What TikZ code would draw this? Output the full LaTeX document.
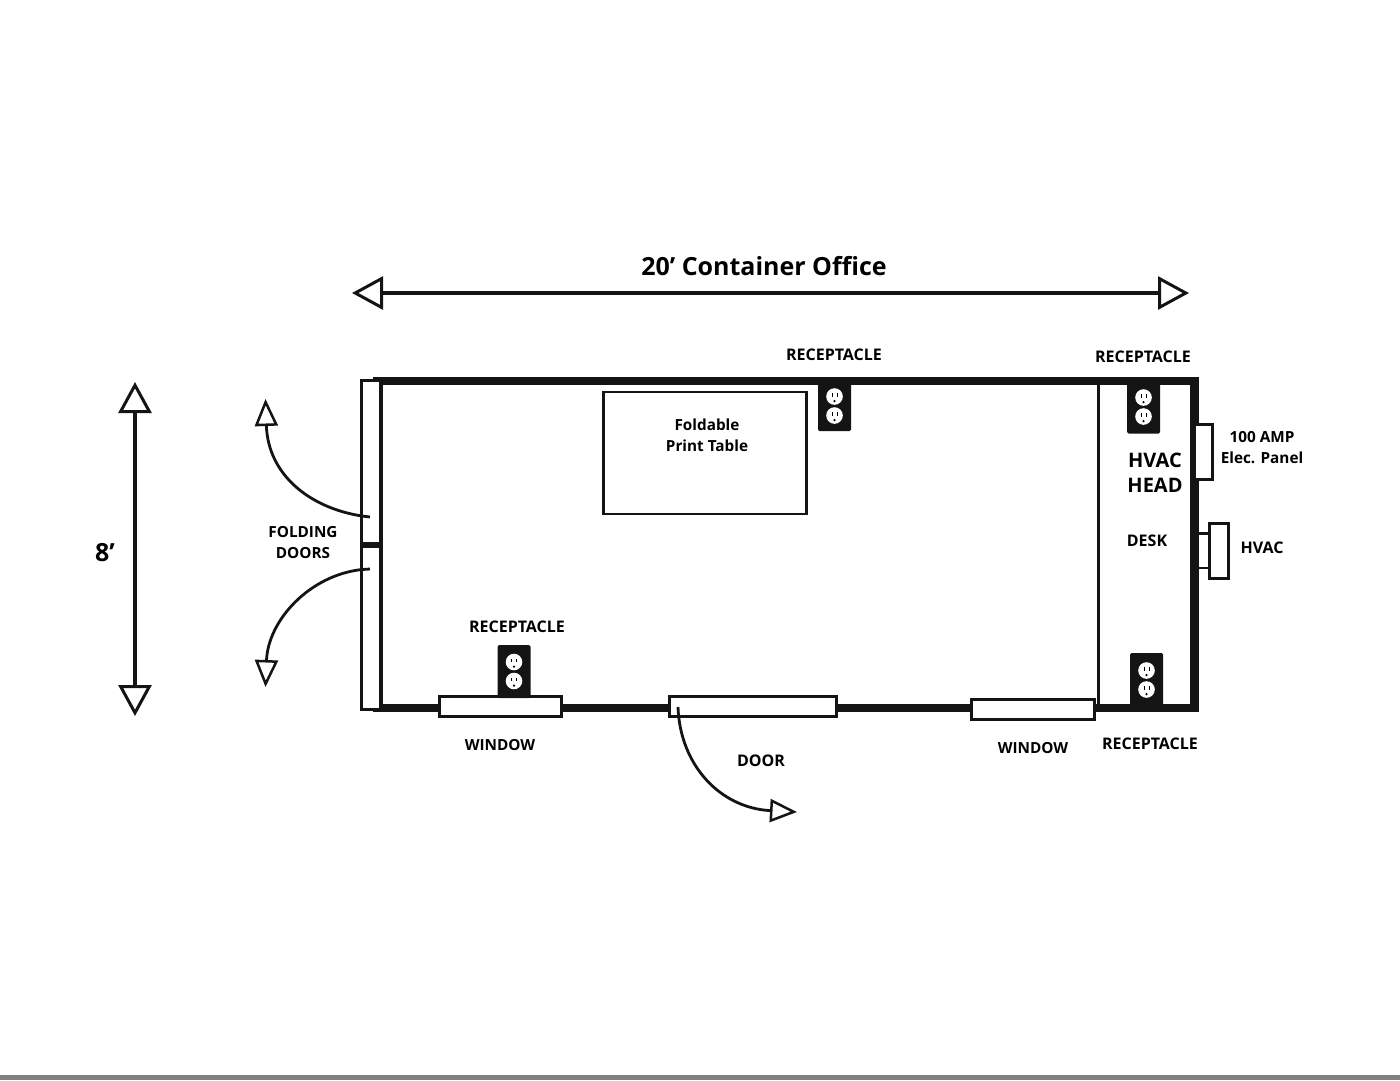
\documentclass[tikz,border=0pt]{standalone}
\usepackage{fontspec}
\setmainfont{Open Sans}
\usetikzlibrary{arrows.meta}
\tikzset{
  lbl/.style={font=\fontsize{16}{21}\selectfont\bfseries, align=center, inner sep=0pt, text=black},
  lblsm/.style={lbl, font=\fontsize{15.3}{21}\selectfont\bfseries},
  headlbl/.style={font=\fontsize{20}{25}\selectfont\bfseries, align=center, inner sep=0pt, text=black},
  titlelbl/.style={font=\fontsize{25}{30}\selectfont\bfseries, inner sep=0pt, text=black},
  wall/.style={line width=8.5pt, draw=black!92, line cap=butt},
  box/.style={draw=black!92, fill=white, line width=3.2pt, inner sep=0pt, anchor=north west},
  thin box/.style={draw=black!92, line width=2.5pt, inner sep=0pt, anchor=north west},
  bighead/.tip={Triangle[open, length=31pt, width=33pt, line width=3pt]},
  smallhead/.tip={Triangle[open, length=27pt, width=23pt, line width=2.5pt]},
  dim/.style={draw=black!92, line width=3.5pt, {bighead}-{bighead}},
  swing/.style={draw=black!92, line width=2.8pt, -{smallhead}},
  plate/.style={fill=black!92, rounded corners=1.5pt, draw=none}
}
\newcommand{\receptacle}[3]{% name, centre, height
  \node[plate, minimum width=33pt, minimum height=#3pt, inner sep=0pt] (#1) at (#2) {};
  \foreach \dy in {-9.5,9.5}{
    \fill[white] ([yshift=-\dy pt]#1.center) circle (8.3pt);
    \fill[black] ([yshift=-\dy pt, xshift=-2.8pt]#1.center) rectangle ++(1.1pt,3.4pt);
    \fill[black] ([yshift=-\dy pt, xshift=2.2pt]#1.center) rectangle ++(1.1pt,3.4pt);
    \fill[black] ([yshift=-\dy pt-4.6pt]#1.center) circle (1.2pt);
  }
}
\begin{document}
\begin{tikzpicture}[x=1pt,y=-1pt]
\useasboundingbox (0,0) rectangle (1400,1080);
\fill[white] (0,0) rectangle (1400,1080);
\fill[black!50] (0,1075) rectangle (1400,1080);

% dimension arrows
\coordinate (wL) at (352,293); \coordinate (wR) at (1189,293);
\draw[dim] (wL) -- (wR);
\coordinate (hT) at (135,382); \coordinate (hB) at (135,716);
\draw[dim] (hT) -- (hB);
\node[titlelbl] (title) at (764,266) {20’ Container Office};
\node[titlelbl] (eight) at (105,553) {8’};

% walls
\draw[wall] (372.5,381) -- (1194.5,381) -- (1194.5,708) -- (372.5,708);
\draw[black!92, line width=3.5pt] (381,381) -- (381,707);
\draw[black!92, line width=3pt] (1098,381) -- (1098,707);

% table
\node[thin box, minimum width=203pt, minimum height=122pt] (table) at (602,390.5) {};
\node[lblsm] (tabletxt) at (707,435) {Foldable\\Print Table};

% folding doors
\node[box, minimum width=19.5pt, minimum height=163pt] (leafA) at (359.5,379) {};
\node[box, minimum width=19.5pt, minimum height=163pt] (leafB) at (359.5,545) {};
\coordinate (swA) at (370,517); \coordinate (tipA) at (265.5,399);
\coordinate (swB) at (370,569); \coordinate (tipB) at (265.5,687);
\draw[swing] (swA) -- ++(-8,-1) .. controls (310,508) and (268,475) .. (tipA);
\draw[swing] (swB) -- ++(-8,0.5) .. controls (310,575) and (268,620) .. (tipB);
\node[lblsm] (fold) at (303,543) {FOLDING\\DOORS};

% windows, door
\node[box, minimum width=122pt, minimum height=20pt] (win1) at (438,694.5) {};
\node[box, minimum width=167pt, minimum height=20pt] (door) at (667.5,695) {};
\node[box, minimum width=123pt, minimum height=20pt] (win2) at (969.5,697.5) {};
\coordinate (doorHinge) at (678,707); \coordinate (doorTip) at (797,812);
\draw[swing] (doorHinge) .. controls (680,765) and (720,808) .. (doorTip);
\node[lblsm] at (500,745) (lw1) {WINDOW};
\node[lblsm] at (1033,748) (lw2) {WINDOW};
\node[lbl] at (761,761) (ld) {DOOR};

% receptacles
\receptacle{r1}{834.5,406}{50}
\receptacle{r2}{1143.5,407}{53}
\receptacle{r3}{1146.5,680}{54}
\receptacle{r4}{514,671.5}{53}
\node[lbl] (l1) at (834,354.5) {RECEPTACLE};
\node[lbl] (l2) at (1143,356.5) {RECEPTACLE};
\node[lbl] (l3) at (1150,743.5) {RECEPTACLE};
\node[lbl] (l4) at (517,626.5) {RECEPTACLE};

% right side
\node[box, minimum width=17.5pt, minimum height=55pt] (panel) at (1193,422.5) {};
\node[box, minimum width=18.5pt, minimum height=55pt] (hvac) at (1208,521.5) {};
\draw[black!92, line width=2.5pt] (1198,533.5) -- (hvac.west |- 0,533.5);
\draw[black!92, line width=2.5pt] (1198,568) -- (hvac.west |- 0,568);
\node[headlbl] (head) at (1155,472.5) {HVAC\\HEAD};
\node[lbl] (desk) at (1147,541) {DESK};
\node[lblsm] (amp) at (1262,448) {100 AMP\\Elec. Panel};
\node[lbl] (hv) at (1262,548) {HVAC};
\end{tikzpicture}
\end{document}
